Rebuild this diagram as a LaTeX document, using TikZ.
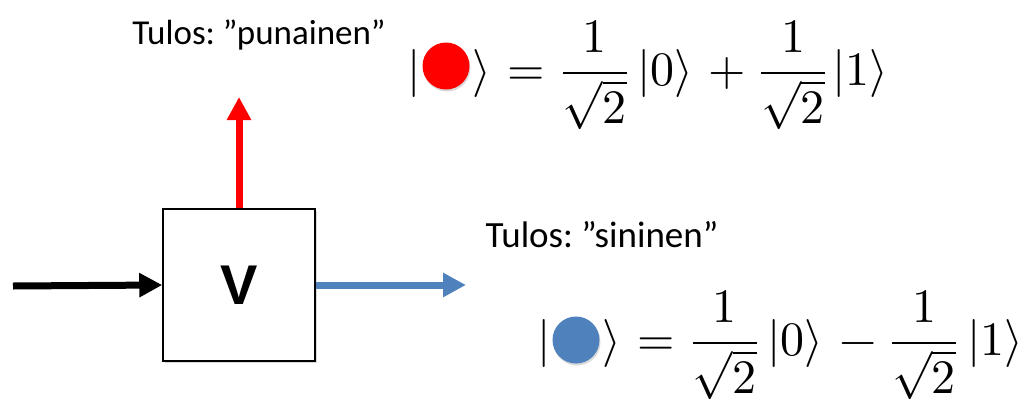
\documentclass[tikz,border=0pt]{standalone}
\usepackage{amsmath}
\usepackage{fontspec}
\usepackage{unicode-math}
\setmainfont{Carlito}
\setmathfont{Latin Modern Math}
\newfontfamily\arialfont{Liberation Sans}
\usetikzlibrary{arrows.meta,shadows}
\definecolor{outred}{HTML}{FF0000}
\definecolor{outblue}{HTML}{4F81BD}
\frenchspacing
\begin{document}
\begin{tikzpicture}[x=1pt,y=-1pt,
  gate/.style={draw=black,line width=1.5pt,fill=white,minimum width=152pt,minimum height=152pt,inner sep=0pt,
    drop shadow={opacity=0.3,shadow xshift=1.5pt,shadow yshift=-2pt}},
  fat/.style={line width=7pt,-{Triangle[length=23pt,width=23pt]}},
  lbl/.style={font=\fontsize{35}{40}\selectfont,inner sep=0pt},
  eqn/.style={font=\fontsize{48}{54}\selectfont,inner sep=0pt,anchor=base west},
  dot/.style={circle,minimum size=47pt,inner sep=0pt,
    drop shadow={opacity=0.3,shadow xshift=1pt,shadow yshift=-2pt}}]
\useasboundingbox (0,0) rectangle (1034,405);
\node[gate] (v) at (239,285) {\arialfont\bfseries\fontsize{56}{60}\selectfont V};
\coordinate (in) at (13,286);
\coordinate (up) at (239,97);
\coordinate (right) at (466,285);
\draw[fat,black] (in) -- (v.west);
\draw[fat,outred] (v.north) -- (up);
\draw[fat,outblue] (v.east) -- (right);
\node[lbl] (t1) at (259,35) {Tulos: ”punainen”};
\node[lbl,font=\fontsize{37}{42}\selectfont] (t2) at (602,235) {Tulos: ”sininen”};
\node[eqn] (e1) at (407,85) {$\displaystyle \lvert\hspace{52pt}\rangle\hspace{3pt} = \hspace{3.5pt}\frac{1}{\sqrt{2}}\hspace{9pt}\lvert 0\rangle \hspace{5pt}+\hspace{3pt} \frac{1}{\sqrt{2}}\hspace{6pt}\lvert 1\rangle$};
\node[dot,fill=outred] (c1) at (446,66) {};
\node[eqn] (e2) at (537,355) {$\displaystyle \lvert\hspace{52pt}\rangle\hspace{3pt} = \hspace{3.5pt}\frac{1}{\sqrt{2}}\hspace{9pt}\lvert 0\rangle \hspace{6pt}-\hspace{3pt} \frac{1}{\sqrt{2}}\hspace{10pt}\lvert 1\rangle$};
\node[dot,fill=outblue] (c2) at (576,340) {};
\end{tikzpicture}
\end{document}
